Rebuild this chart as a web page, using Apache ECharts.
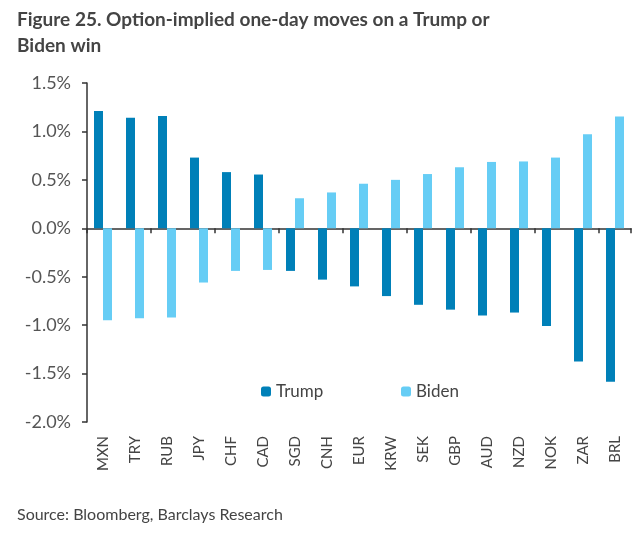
<!DOCTYPE html>
<html>
<head>
<meta charset="utf-8">
<script src="https://cdn.jsdelivr.net/npm/echarts@6/dist/echarts.min.js"></script>
<style>
html,body{margin:0;padding:0;background:#fff;}
#c{width:639px;height:533px;}
</style>
</head>
<body>
<div id="c"></div>
<script>
const categories = ['MXN','TRY','RUB','JPY','CHF','CAD','SGD','CNH','EUR','KRW','SEK','GBP','AUD','NZD','NOK','ZAR','BRL'];
const trump = [1.21, 1.14, 1.16, 0.73, 0.58, 0.555, -0.44, -0.53, -0.60, -0.70, -0.79, -0.84, -0.90, -0.87, -1.01, -1.375, -1.585];
const biden = [-0.95, -0.93, -0.92, -0.56, -0.44, -0.43, 0.31, 0.37, 0.46, 0.50, 0.56, 0.63, 0.685, 0.69, 0.73, 0.97, 1.155];
const titleText = 'Figure 25. Option-implied one-day moves on a Trump or\nBiden win';
const sourceText = 'Source: Bloomberg, Barclays Research';

const FONT = 'Lato, "Noto Sans", sans-serif';
const chart = echarts.init(document.getElementById('c'));
chart.setOption({
  animation: false,
  backgroundColor: '#fff',
  title: [{
    text: titleText,
    left: 12, top: 2,
    textStyle: {fontFamily: FONT, fontSize: 19, fontWeight: 'bold', color: '#444', lineHeight: 26}
  }, {
    text: sourceText,
    left: 12, top: 502,
    textStyle: {fontFamily: FONT, fontSize: 16, fontWeight: 'normal', color: '#444'}
  }],
  legend: [{
    data: ['Trump'], left: 256, top: 378, itemWidth: 10, itemHeight: 10, itemGap: 6,
    textStyle: {fontFamily: FONT, fontSize: 17, color: '#444'}
  }, {
    data: ['Biden'], left: 396, top: 378, itemWidth: 10, itemHeight: 10,
    textStyle: {fontFamily: FONT, fontSize: 17, color: '#444'}
  }],
  grid: {left: 87, right: 8, top: 83, bottom: 111, containLabel: false},
  xAxis: [{
    type: 'category', data: categories,
    axisLine: {onZero: true, lineStyle: {color: '#333', width: 1.5}},
    axisTick: {show: true, inside: false, length: 5, lineStyle: {color: '#333', width: 1.5}},
    axisLabel: {show: false}
  }, {
    type: 'category', data: categories, position: 'bottom',
    axisLine: {show: false, onZero: false}, axisTick: {show: false},
    axisLabel: {rotate: 90, margin: 14, fontFamily: FONT, fontSize: 15, color: '#444'}
  }],
  yAxis: {
    type: 'value', min: -2.0, max: 1.5, interval: 0.5,
    splitLine: {show: false},
    axisLine: {show: true, lineStyle: {color: '#333', width: 1.5}},
    axisTick: {show: true, length: 5, lineStyle: {color: '#333', width: 1.5}},
    axisLabel: {fontFamily: FONT, fontSize: 18, color: '#555', margin: 16,
      formatter: v => v.toFixed(1) + '%'}
  },
  series: [{
    name: 'Trump', type: 'bar', data: trump, barWidth: 9, barGap: '0%',
    itemStyle: {color: '#0080b8'}
  }, {
    name: 'Biden', type: 'bar', data: biden, barWidth: 9,
    itemStyle: {color: '#66cdf5'}
  }]
});
</script>
</body>
</html>
